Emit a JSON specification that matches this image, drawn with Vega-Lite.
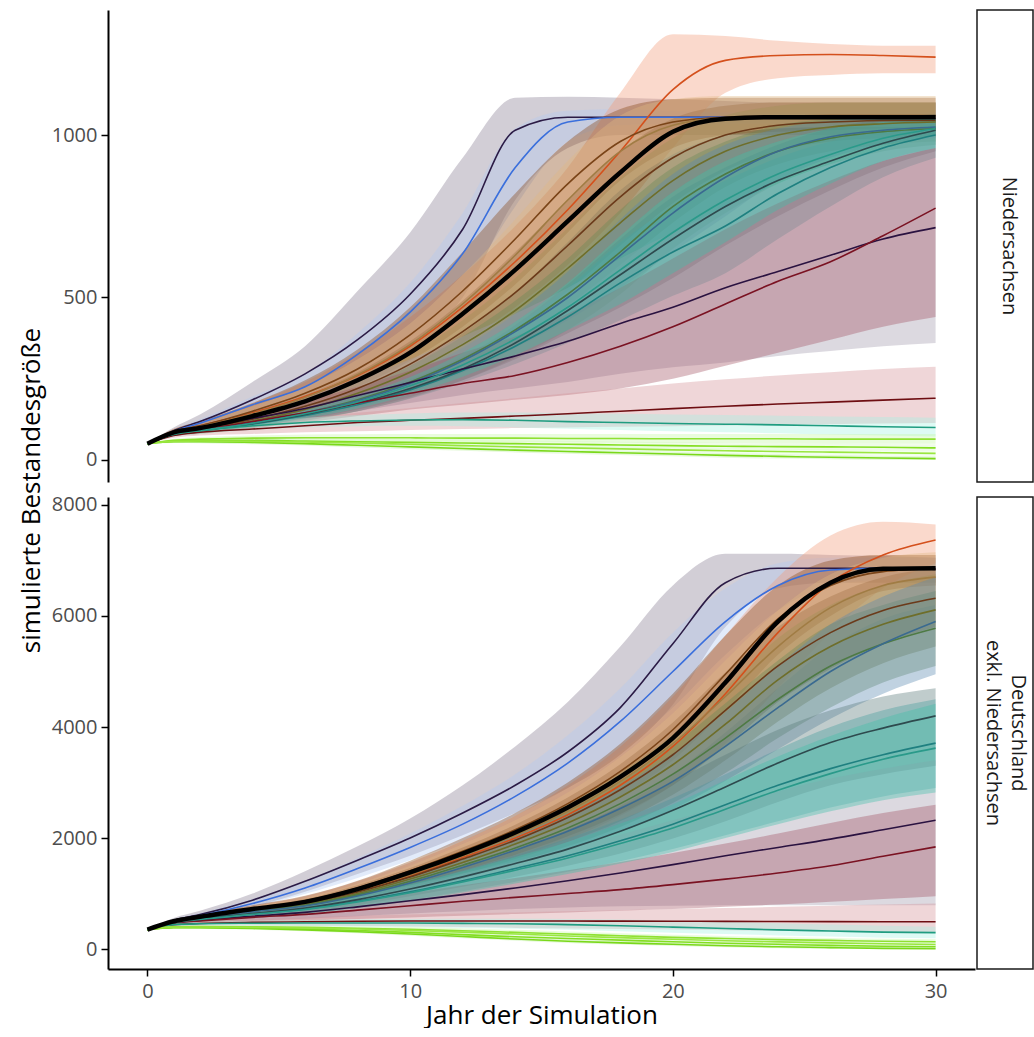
{
"$schema": "https://vega.github.io/schema/vega-lite/v6.json",
"background": "white",
"padding": {"left": 18, "top": 9, "right": 0, "bottom": 0},
"config": {"view": {"stroke": null}, "font": "Open Sans"},
"columns": 2,
"align": "each",
"bounds": "flush",
"spacing": {"row": 15, "column": 2},
"datasets": {
"main": [
{"f":"N","x":0,"y":50},{"f":"N","x":1,"y":85},{"f":"N","x":2,"y":98},{"f":"N","x":4,"y":135},{"f":"N","x":6,"y":180},{"f":"N","x":8,"y":245},{"f":"N","x":10,"y":330},{"f":"N","x":12,"y":450},{"f":"N","x":14,"y":585},{"f":"N","x":16,"y":735},{"f":"N","x":18,"y":885},{"f":"N","x":20,"y":1010},{"f":"N","x":22,"y":1050},{"f":"N","x":24,"y":1055},{"f":"N","x":26,"y":1055},{"f":"N","x":28,"y":1055},{"f":"N","x":30,"y":1055},
{"f":"D","x":0,"y":350},{"f":"D","x":1,"y":500},{"f":"D","x":2,"y":580},{"f":"D","x":4,"y":720},{"f":"D","x":6,"y":850},{"f":"D","x":8,"y":1080},{"f":"D","x":10,"y":1380},{"f":"D","x":12,"y":1720},{"f":"D","x":14,"y":2100},{"f":"D","x":16,"y":2550},{"f":"D","x":18,"y":3100},{"f":"D","x":20,"y":3800},{"f":"D","x":22,"y":4800},{"f":"D","x":24,"y":5900},{"f":"D","x":26,"y":6600},{"f":"D","x":28,"y":6850},{"f":"D","x":30,"y":6860}
],
"bandsN": [
{"s":"s01","x":0,"y":50,"lo":50,"hi":50},{"s":"s01","x":1,"y":90,"lo":80,"hi":100},{"s":"s01","x":2,"y":118,"lo":100,"hi":140},{"s":"s01","x":4,"y":185,"lo":140,"hi":240},{"s":"s01","x":6,"y":265,"lo":190,"hi":350},{"s":"s01","x":8,"y":370,"lo":250,"hi":520},{"s":"s01","x":10,"y":510,"lo":350,"hi":700},{"s":"s01","x":12,"y":710,"lo":500,"hi":930},{"s":"s01","x":14,"y":1015,"lo":800,"hi":1115},{"s":"s01","x":16,"y":1055,"lo":960,"hi":1118},{"s":"s01","x":18,"y":1055,"lo":1000,"hi":1115},{"s":"s01","x":20,"y":1055,"lo":1000,"hi":1110},{"s":"s01","x":22,"y":1055,"lo":1000,"hi":1105},{"s":"s01","x":24,"y":1054,"lo":1000,"hi":1100},{"s":"s01","x":26,"y":1053,"lo":1000,"hi":1100},{"s":"s01","x":28,"y":1053,"lo":1000,"hi":1100},{"s":"s01","x":30,"y":1052,"lo":1000,"hi":1100},
{"s":"s02","x":0,"y":50,"lo":50,"hi":50},{"s":"s02","x":1,"y":88,"lo":82,"hi":95},{"s":"s02","x":2,"y":113,"lo":102,"hi":125},{"s":"s02","x":4,"y":170,"lo":150,"hi":195},{"s":"s02","x":6,"y":225,"lo":195,"hi":265},{"s":"s02","x":8,"y":325,"lo":275,"hi":390},{"s":"s02","x":10,"y":455,"lo":385,"hi":545},{"s":"s02","x":12,"y":635,"lo":530,"hi":760},{"s":"s02","x":14,"y":900,"lo":780,"hi":1020},{"s":"s02","x":16,"y":1040,"lo":980,"hi":1075},{"s":"s02","x":18,"y":1055,"lo":1030,"hi":1080},{"s":"s02","x":20,"y":1055,"lo":1035,"hi":1075},{"s":"s02","x":22,"y":1055,"lo":1035,"hi":1070},{"s":"s02","x":24,"y":1055,"lo":1035,"hi":1070},{"s":"s02","x":26,"y":1055,"lo":1035,"hi":1070},{"s":"s02","x":28,"y":1055,"lo":1035,"hi":1070},{"s":"s02","x":30,"y":1055,"lo":1035,"hi":1070},
{"s":"s03","x":0,"y":50,"lo":50,"hi":50},{"s":"s03","x":1,"y":85,"lo":78,"hi":95},{"s":"s03","x":2,"y":105,"lo":92,"hi":120},{"s":"s03","x":4,"y":145,"lo":120,"hi":175},{"s":"s03","x":6,"y":195,"lo":155,"hi":240},{"s":"s03","x":8,"y":260,"lo":200,"hi":330},{"s":"s03","x":10,"y":350,"lo":270,"hi":440},{"s":"s03","x":12,"y":470,"lo":360,"hi":570},{"s":"s03","x":14,"y":610,"lo":470,"hi":720},{"s":"s03","x":16,"y":770,"lo":600,"hi":900},{"s":"s03","x":18,"y":950,"lo":760,"hi":1130},{"s":"s03","x":20,"y":1140,"lo":960,"hi":1310},{"s":"s03","x":22,"y":1230,"lo":1130,"hi":1305},{"s":"s03","x":24,"y":1245,"lo":1175,"hi":1290},{"s":"s03","x":26,"y":1248,"lo":1185,"hi":1280},{"s":"s03","x":28,"y":1245,"lo":1190,"hi":1275},{"s":"s03","x":30,"y":1240,"lo":1190,"hi":1275},
{"s":"s04","x":0,"y":50,"lo":50,"hi":50},{"s":"s04","x":1,"y":88,"lo":80,"hi":95},{"s":"s04","x":2,"y":105,"lo":95,"hi":118},{"s":"s04","x":4,"y":150,"lo":128,"hi":175},{"s":"s04","x":6,"y":205,"lo":170,"hi":245},{"s":"s04","x":8,"y":280,"lo":225,"hi":340},{"s":"s04","x":10,"y":385,"lo":305,"hi":470},{"s":"s04","x":12,"y":520,"lo":410,"hi":640},{"s":"s04","x":14,"y":680,"lo":540,"hi":820},{"s":"s04","x":16,"y":850,"lo":700,"hi":980},{"s":"s04","x":18,"y":980,"lo":860,"hi":1080},{"s":"s04","x":20,"y":1040,"lo":960,"hi":1110},{"s":"s04","x":22,"y":1055,"lo":1000,"hi":1115},{"s":"s04","x":24,"y":1058,"lo":1010,"hi":1115},{"s":"s04","x":26,"y":1060,"lo":1015,"hi":1115},{"s":"s04","x":28,"y":1060,"lo":1020,"hi":1115},{"s":"s04","x":30,"y":1060,"lo":1020,"hi":1115},
{"s":"s05","x":0,"y":50,"lo":50,"hi":50},{"s":"s05","x":1,"y":83,"lo":76,"hi":90},{"s":"s05","x":2,"y":95,"lo":84,"hi":108},{"s":"s05","x":4,"y":125,"lo":105,"hi":148},{"s":"s05","x":6,"y":165,"lo":135,"hi":200},{"s":"s05","x":8,"y":220,"lo":175,"hi":270},{"s":"s05","x":10,"y":295,"lo":230,"hi":365},{"s":"s05","x":12,"y":395,"lo":305,"hi":490},{"s":"s05","x":14,"y":515,"lo":400,"hi":640},{"s":"s05","x":16,"y":660,"lo":520,"hi":800},{"s":"s05","x":18,"y":810,"lo":660,"hi":950},{"s":"s05","x":20,"y":930,"lo":790,"hi":1050},{"s":"s05","x":22,"y":1000,"lo":890,"hi":1090},{"s":"s05","x":24,"y":1030,"lo":950,"hi":1100},{"s":"s05","x":26,"y":1040,"lo":980,"hi":1100},{"s":"s05","x":28,"y":1045,"lo":990,"hi":1100},{"s":"s05","x":30,"y":1045,"lo":995,"hi":1100},
{"s":"s06","x":0,"y":50,"lo":50,"hi":50},{"s":"s06","x":1,"y":82,"lo":76,"hi":88},{"s":"s06","x":2,"y":93,"lo":84,"hi":104},{"s":"s06","x":4,"y":120,"lo":102,"hi":140},{"s":"s06","x":6,"y":155,"lo":128,"hi":185},{"s":"s06","x":8,"y":205,"lo":165,"hi":245},{"s":"s06","x":10,"y":270,"lo":215,"hi":325},{"s":"s06","x":12,"y":355,"lo":285,"hi":430},{"s":"s06","x":14,"y":460,"lo":370,"hi":560},{"s":"s06","x":16,"y":590,"lo":475,"hi":715},{"s":"s06","x":18,"y":730,"lo":600,"hi":870},{"s":"s06","x":20,"y":860,"lo":730,"hi":990},{"s":"s06","x":22,"y":950,"lo":840,"hi":1060},{"s":"s06","x":24,"y":1000,"lo":910,"hi":1090},{"s":"s06","x":26,"y":1025,"lo":950,"hi":1100},{"s":"s06","x":28,"y":1035,"lo":970,"hi":1100},{"s":"s06","x":30,"y":1040,"lo":980,"hi":1100},
{"s":"s07","x":0,"y":50,"lo":50,"hi":50},{"s":"s07","x":1,"y":86,"lo":80,"hi":94},{"s":"s07","x":2,"y":102,"lo":92,"hi":115},{"s":"s07","x":4,"y":142,"lo":122,"hi":165},{"s":"s07","x":6,"y":192,"lo":160,"hi":225},{"s":"s07","x":8,"y":262,"lo":215,"hi":310},{"s":"s07","x":10,"y":355,"lo":290,"hi":420},{"s":"s07","x":12,"y":480,"lo":390,"hi":570},{"s":"s07","x":14,"y":630,"lo":515,"hi":740},{"s":"s07","x":16,"y":800,"lo":670,"hi":920},{"s":"s07","x":18,"y":950,"lo":830,"hi":1060},{"s":"s07","x":20,"y":1030,"lo":940,"hi":1110},{"s":"s07","x":22,"y":1052,"lo":1000,"hi":1120},{"s":"s07","x":24,"y":1055,"lo":1020,"hi":1120},{"s":"s07","x":26,"y":1055,"lo":1025,"hi":1120},{"s":"s07","x":28,"y":1055,"lo":1025,"hi":1120},{"s":"s07","x":30,"y":1055,"lo":1025,"hi":1120},
{"s":"s08","x":0,"y":50,"lo":50,"hi":50},{"s":"s08","x":1,"y":80,"lo":74,"hi":86},{"s":"s08","x":2,"y":90,"lo":80,"hi":100},{"s":"s08","x":4,"y":115,"lo":98,"hi":132},{"s":"s08","x":6,"y":145,"lo":120,"hi":170},{"s":"s08","x":8,"y":185,"lo":150,"hi":220},{"s":"s08","x":10,"y":240,"lo":190,"hi":290},{"s":"s08","x":12,"y":310,"lo":245,"hi":380},{"s":"s08","x":14,"y":400,"lo":315,"hi":490},{"s":"s08","x":16,"y":510,"lo":400,"hi":620},{"s":"s08","x":18,"y":640,"lo":510,"hi":770},{"s":"s08","x":20,"y":780,"lo":650,"hi":900},{"s":"s08","x":22,"y":880,"lo":760,"hi":980},{"s":"s08","x":24,"y":950,"lo":850,"hi":1030},{"s":"s08","x":26,"y":990,"lo":910,"hi":1050},{"s":"s08","x":28,"y":1010,"lo":950,"hi":1060},{"s":"s08","x":30,"y":1020,"lo":970,"hi":1060},
{"s":"s09","x":0,"y":50,"lo":50,"hi":50},{"s":"s09","x":1,"y":80,"lo":76,"hi":84},{"s":"s09","x":2,"y":90,"lo":84,"hi":96},{"s":"s09","x":4,"y":110,"lo":100,"hi":120},{"s":"s09","x":6,"y":137,"lo":122,"hi":152},{"s":"s09","x":8,"y":170,"lo":150,"hi":192},{"s":"s09","x":10,"y":215,"lo":188,"hi":245},{"s":"s09","x":12,"y":275,"lo":238,"hi":315},{"s":"s09","x":14,"y":350,"lo":295,"hi":410},{"s":"s09","x":16,"y":440,"lo":360,"hi":530},{"s":"s09","x":18,"y":545,"lo":430,"hi":670},{"s":"s09","x":20,"y":640,"lo":505,"hi":780},{"s":"s09","x":22,"y":720,"lo":575,"hi":860},{"s":"s09","x":24,"y":820,"lo":680,"hi":930},{"s":"s09","x":26,"y":900,"lo":780,"hi":980},{"s":"s09","x":28,"y":960,"lo":870,"hi":1010},{"s":"s09","x":30,"y":1000,"lo":930,"hi":1030},
{"s":"s10","x":0,"y":50,"lo":50,"hi":50},{"s":"s10","x":1,"y":81,"lo":77,"hi":85},{"s":"s10","x":2,"y":92,"lo":86,"hi":98},{"s":"s10","x":4,"y":115,"lo":104,"hi":126},{"s":"s10","x":6,"y":145,"lo":130,"hi":160},{"s":"s10","x":8,"y":182,"lo":162,"hi":204},{"s":"s10","x":10,"y":235,"lo":208,"hi":264},{"s":"s10","x":12,"y":305,"lo":268,"hi":345},{"s":"s10","x":14,"y":395,"lo":345,"hi":450},{"s":"s10","x":16,"y":500,"lo":430,"hi":580},{"s":"s10","x":18,"y":630,"lo":530,"hi":740},{"s":"s10","x":20,"y":760,"lo":640,"hi":880},{"s":"s10","x":22,"y":870,"lo":750,"hi":970},{"s":"s10","x":24,"y":950,"lo":860,"hi":1020},{"s":"s10","x":26,"y":995,"lo":930,"hi":1045},{"s":"s10","x":28,"y":1015,"lo":970,"hi":1055},{"s":"s10","x":30,"y":1025,"lo":990,"hi":1060},
{"s":"s11","x":0,"y":50,"lo":50,"hi":50},{"s":"s11","x":1,"y":80,"lo":76,"hi":84},{"s":"s11","x":2,"y":90,"lo":84,"hi":96},{"s":"s11","x":4,"y":112,"lo":102,"hi":122},{"s":"s11","x":6,"y":140,"lo":126,"hi":155},{"s":"s11","x":8,"y":175,"lo":155,"hi":196},{"s":"s11","x":10,"y":220,"lo":194,"hi":248},{"s":"s11","x":12,"y":280,"lo":245,"hi":318},{"s":"s11","x":14,"y":360,"lo":310,"hi":415},{"s":"s11","x":16,"y":460,"lo":390,"hi":540},{"s":"s11","x":18,"y":570,"lo":470,"hi":680},{"s":"s11","x":20,"y":680,"lo":560,"hi":810},{"s":"s11","x":22,"y":780,"lo":660,"hi":900},{"s":"s11","x":24,"y":860,"lo":750,"hi":970},{"s":"s11","x":26,"y":920,"lo":830,"hi":1020},{"s":"s11","x":28,"y":975,"lo":900,"hi":1050},{"s":"s11","x":30,"y":1015,"lo":950,"hi":1065},
{"s":"s12","x":0,"y":50,"lo":50,"hi":50},{"s":"s12","x":1,"y":82,"lo":76,"hi":88},{"s":"s12","x":2,"y":98,"lo":86,"hi":110},{"s":"s12","x":4,"y":128,"lo":108,"hi":150},{"s":"s12","x":6,"y":158,"lo":125,"hi":195},{"s":"s12","x":8,"y":198,"lo":150,"hi":250},{"s":"s12","x":10,"y":238,"lo":175,"hi":310},{"s":"s12","x":12,"y":280,"lo":200,"hi":380},{"s":"s12","x":14,"y":320,"lo":220,"hi":450},{"s":"s12","x":16,"y":365,"lo":240,"hi":530},{"s":"s12","x":18,"y":420,"lo":265,"hi":620},{"s":"s12","x":20,"y":470,"lo":285,"hi":700},{"s":"s12","x":22,"y":530,"lo":300,"hi":780},{"s":"s12","x":24,"y":580,"lo":320,"hi":850},{"s":"s12","x":26,"y":630,"lo":335,"hi":910},{"s":"s12","x":28,"y":680,"lo":350,"hi":960},{"s":"s12","x":30,"y":715,"lo":360,"hi":1000},
{"s":"s13","x":0,"y":50,"lo":50,"hi":50},{"s":"s13","x":1,"y":80,"lo":74,"hi":87},{"s":"s13","x":2,"y":93,"lo":82,"hi":105},{"s":"s13","x":4,"y":118,"lo":98,"hi":140},{"s":"s13","x":6,"y":145,"lo":115,"hi":180},{"s":"s13","x":8,"y":175,"lo":135,"hi":225},{"s":"s13","x":10,"y":205,"lo":155,"hi":275},{"s":"s13","x":12,"y":235,"lo":170,"hi":330},{"s":"s13","x":14,"y":260,"lo":185,"hi":380},{"s":"s13","x":16,"y":300,"lo":200,"hi":450},{"s":"s13","x":18,"y":350,"lo":220,"hi":530},{"s":"s13","x":20,"y":410,"lo":250,"hi":620},{"s":"s13","x":22,"y":480,"lo":290,"hi":710},{"s":"s13","x":24,"y":550,"lo":330,"hi":790},{"s":"s13","x":26,"y":610,"lo":370,"hi":860},{"s":"s13","x":28,"y":690,"lo":410,"hi":920},{"s":"s13","x":30,"y":775,"lo":440,"hi":960},
{"s":"s14","x":0,"y":50,"lo":50,"hi":50},{"s":"s14","x":1,"y":75,"lo":68,"hi":82},{"s":"s14","x":2,"y":85,"lo":75,"hi":95},{"s":"s14","x":4,"y":95,"lo":80,"hi":112},{"s":"s14","x":6,"y":105,"lo":85,"hi":128},{"s":"s14","x":8,"y":115,"lo":88,"hi":145},{"s":"s14","x":10,"y":122,"lo":92,"hi":160},{"s":"s14","x":12,"y":128,"lo":95,"hi":175},{"s":"s14","x":14,"y":135,"lo":98,"hi":190},{"s":"s14","x":16,"y":142,"lo":100,"hi":205},{"s":"s14","x":18,"y":150,"lo":102,"hi":220},{"s":"s14","x":20,"y":158,"lo":104,"hi":235},{"s":"s14","x":22,"y":165,"lo":106,"hi":248},{"s":"s14","x":24,"y":172,"lo":108,"hi":260},{"s":"s14","x":26,"y":178,"lo":110,"hi":270},{"s":"s14","x":28,"y":184,"lo":112,"hi":280},{"s":"s14","x":30,"y":190,"lo":114,"hi":287},
{"s":"s15","x":0,"y":50,"lo":50,"hi":50},{"s":"s15","x":1,"y":78,"lo":72,"hi":84},{"s":"s15","x":2,"y":90,"lo":80,"hi":98},{"s":"s15","x":4,"y":105,"lo":92,"hi":118},{"s":"s15","x":6,"y":115,"lo":100,"hi":130},{"s":"s15","x":8,"y":120,"lo":104,"hi":138},{"s":"s15","x":10,"y":123,"lo":105,"hi":143},{"s":"s15","x":12,"y":124,"lo":104,"hi":146},{"s":"s15","x":14,"y":122,"lo":100,"hi":146},{"s":"s15","x":16,"y":118,"lo":96,"hi":144},{"s":"s15","x":18,"y":115,"lo":92,"hi":142},{"s":"s15","x":20,"y":112,"lo":88,"hi":140},{"s":"s15","x":22,"y":110,"lo":85,"hi":138},{"s":"s15","x":24,"y":108,"lo":82,"hi":136},{"s":"s15","x":26,"y":105,"lo":78,"hi":134},{"s":"s15","x":28,"y":102,"lo":75,"hi":132},{"s":"s15","x":30,"y":100,"lo":72,"hi":130},
{"s":"s16","x":0,"y":50,"lo":50,"hi":50},{"s":"s16","x":1,"y":60,"lo":55,"hi":65},{"s":"s16","x":2,"y":64,"lo":58,"hi":70},{"s":"s16","x":4,"y":67,"lo":60,"hi":75},{"s":"s16","x":6,"y":68,"lo":60,"hi":78},{"s":"s16","x":8,"y":68,"lo":58,"hi":79},{"s":"s16","x":10,"y":68,"lo":57,"hi":80},{"s":"s16","x":12,"y":67,"lo":56,"hi":80},{"s":"s16","x":14,"y":67,"lo":55,"hi":80},{"s":"s16","x":16,"y":66,"lo":54,"hi":80},{"s":"s16","x":18,"y":66,"lo":53,"hi":80},{"s":"s16","x":20,"y":65,"lo":52,"hi":80},{"s":"s16","x":22,"y":65,"lo":52,"hi":80},{"s":"s16","x":24,"y":65,"lo":51,"hi":80},{"s":"s16","x":26,"y":64,"lo":50,"hi":80},{"s":"s16","x":28,"y":64,"lo":50,"hi":80},{"s":"s16","x":30,"y":64,"lo":50,"hi":80},
{"s":"s17","x":0,"y":50,"lo":50,"hi":50},{"s":"s17","x":1,"y":58,"lo":54,"hi":62},{"s":"s17","x":2,"y":60,"lo":55,"hi":66},{"s":"s17","x":4,"y":60,"lo":53,"hi":68},{"s":"s17","x":6,"y":58,"lo":50,"hi":67},{"s":"s17","x":8,"y":56,"lo":47,"hi":66},{"s":"s17","x":10,"y":54,"lo":44,"hi":64},{"s":"s17","x":12,"y":52,"lo":42,"hi":62},{"s":"s17","x":14,"y":50,"lo":40,"hi":60},{"s":"s17","x":16,"y":48,"lo":38,"hi":58},{"s":"s17","x":18,"y":46,"lo":36,"hi":56},{"s":"s17","x":20,"y":44,"lo":34,"hi":54},{"s":"s17","x":22,"y":42,"lo":32,"hi":52},{"s":"s17","x":24,"y":41,"lo":31,"hi":51},{"s":"s17","x":26,"y":40,"lo":30,"hi":50},{"s":"s17","x":28,"y":39,"lo":29,"hi":49},{"s":"s17","x":30,"y":37,"lo":28,"hi":48},
{"s":"s18","x":0,"y":50,"lo":50,"hi":50},{"s":"s18","x":1,"y":56,"lo":52,"hi":60},{"s":"s18","x":2,"y":56,"lo":51,"hi":61},{"s":"s18","x":4,"y":54,"lo":48,"hi":60},{"s":"s18","x":6,"y":50,"lo":44,"hi":56},{"s":"s18","x":8,"y":45,"lo":38,"hi":52},{"s":"s18","x":10,"y":40,"lo":33,"hi":47},{"s":"s18","x":12,"y":35,"lo":28,"hi":42},{"s":"s18","x":14,"y":30,"lo":23,"hi":37},{"s":"s18","x":16,"y":26,"lo":19,"hi":33},{"s":"s18","x":18,"y":22,"lo":15,"hi":29},{"s":"s18","x":20,"y":18,"lo":11,"hi":25},{"s":"s18","x":22,"y":14,"lo":7,"hi":21},{"s":"s18","x":24,"y":11,"lo":4,"hi":18},{"s":"s18","x":26,"y":8,"lo":2,"hi":15},{"s":"s18","x":28,"y":6,"lo":0,"hi":13},{"s":"s18","x":30,"y":4,"lo":0,"hi":11},
{"s":"s19","x":0,"y":50,"lo":50,"hi":50},{"s":"s19","x":1,"y":57,"lo":53,"hi":61},{"s":"s19","x":2,"y":58,"lo":52,"hi":64},{"s":"s19","x":4,"y":57,"lo":50,"hi":64},{"s":"s19","x":6,"y":55,"lo":47,"hi":63},{"s":"s19","x":8,"y":52,"lo":44,"hi":60},{"s":"s19","x":10,"y":48,"lo":40,"hi":56},{"s":"s19","x":12,"y":44,"lo":36,"hi":52},{"s":"s19","x":14,"y":40,"lo":32,"hi":48},{"s":"s19","x":16,"y":37,"lo":29,"hi":45},{"s":"s19","x":18,"y":34,"lo":26,"hi":42},{"s":"s19","x":20,"y":31,"lo":23,"hi":39},{"s":"s19","x":22,"y":28,"lo":20,"hi":36},{"s":"s19","x":24,"y":26,"lo":18,"hi":34},{"s":"s19","x":26,"y":24,"lo":16,"hi":32},{"s":"s19","x":28,"y":22,"lo":14,"hi":30},{"s":"s19","x":30,"y":20,"lo":12,"hi":28},
{"s":"s20","x":0,"y":50,"lo":50,"hi":50},{"s":"s20","x":1,"y":80,"lo":76,"hi":84},{"s":"s20","x":2,"y":91,"lo":85,"hi":97},{"s":"s20","x":4,"y":113,"lo":103,"hi":123},{"s":"s20","x":6,"y":142,"lo":128,"hi":156},{"s":"s20","x":8,"y":178,"lo":158,"hi":198},{"s":"s20","x":10,"y":228,"lo":202,"hi":255},{"s":"s20","x":12,"y":292,"lo":256,"hi":330},{"s":"s20","x":14,"y":372,"lo":322,"hi":425},{"s":"s20","x":16,"y":470,"lo":400,"hi":545},{"s":"s20","x":18,"y":585,"lo":480,"hi":690},{"s":"s20","x":20,"y":700,"lo":575,"hi":825},{"s":"s20","x":22,"y":800,"lo":670,"hi":920},{"s":"s20","x":24,"y":880,"lo":770,"hi":980},{"s":"s20","x":26,"y":940,"lo":850,"hi":1020},{"s":"s20","x":28,"y":990,"lo":920,"hi":1040},{"s":"s20","x":30,"y":1020,"lo":960,"hi":1050}
],
"bandsD": [
{"s":"s01","x":0,"y":350,"lo":350,"hi":350},{"s":"s01","x":1,"y":520,"lo":480,"hi":560},{"s":"s01","x":2,"y":620,"lo":560,"hi":690},{"s":"s01","x":4,"y":880,"lo":760,"hi":1000},{"s":"s01","x":6,"y":1220,"lo":1030,"hi":1400},{"s":"s01","x":8,"y":1600,"lo":1350,"hi":1850},{"s":"s01","x":10,"y":2000,"lo":1680,"hi":2350},{"s":"s01","x":12,"y":2450,"lo":2050,"hi":2950},{"s":"s01","x":14,"y":2950,"lo":2450,"hi":3650},{"s":"s01","x":16,"y":3550,"lo":2900,"hi":4450},{"s":"s01","x":18,"y":4350,"lo":3500,"hi":5450},{"s":"s01","x":20,"y":5500,"lo":4400,"hi":6550},{"s":"s01","x":22,"y":6600,"lo":5800,"hi":7120},{"s":"s01","x":24,"y":6860,"lo":6500,"hi":7120},{"s":"s01","x":26,"y":6860,"lo":6600,"hi":7100},{"s":"s01","x":28,"y":6860,"lo":6600,"hi":7080},{"s":"s01","x":30,"y":6840,"lo":6600,"hi":7050},
{"s":"s02","x":0,"y":350,"lo":350,"hi":350},{"s":"s02","x":1,"y":510,"lo":480,"hi":540},{"s":"s02","x":2,"y":600,"lo":560,"hi":650},{"s":"s02","x":4,"y":820,"lo":750,"hi":900},{"s":"s02","x":6,"y":1100,"lo":990,"hi":1230},{"s":"s02","x":8,"y":1450,"lo":1280,"hi":1640},{"s":"s02","x":10,"y":1830,"lo":1600,"hi":2080},{"s":"s02","x":12,"y":2250,"lo":1950,"hi":2580},{"s":"s02","x":14,"y":2750,"lo":2400,"hi":3150},{"s":"s02","x":16,"y":3350,"lo":2900,"hi":3850},{"s":"s02","x":18,"y":4100,"lo":3550,"hi":4700},{"s":"s02","x":20,"y":5000,"lo":4350,"hi":5700},{"s":"s02","x":22,"y":5900,"lo":5300,"hi":6500},{"s":"s02","x":24,"y":6550,"lo":6100,"hi":6950},{"s":"s02","x":26,"y":6830,"lo":6550,"hi":7050},{"s":"s02","x":28,"y":6860,"lo":6650,"hi":7050},{"s":"s02","x":30,"y":6860,"lo":6650,"hi":7050},
{"s":"s03","x":0,"y":350,"lo":350,"hi":350},{"s":"s03","x":1,"y":500,"lo":470,"hi":530},{"s":"s03","x":2,"y":575,"lo":535,"hi":620},{"s":"s03","x":4,"y":705,"lo":640,"hi":780},{"s":"s03","x":6,"y":830,"lo":730,"hi":950},{"s":"s03","x":8,"y":1040,"lo":880,"hi":1220},{"s":"s03","x":10,"y":1320,"lo":1100,"hi":1560},{"s":"s03","x":12,"y":1650,"lo":1370,"hi":1950},{"s":"s03","x":14,"y":2000,"lo":1650,"hi":2400},{"s":"s03","x":16,"y":2420,"lo":1980,"hi":2950},{"s":"s03","x":18,"y":2950,"lo":2400,"hi":3650},{"s":"s03","x":20,"y":3650,"lo":2950,"hi":4550},{"s":"s03","x":22,"y":4600,"lo":3700,"hi":5650},{"s":"s03","x":24,"y":5700,"lo":4700,"hi":6700},{"s":"s03","x":26,"y":6600,"lo":5700,"hi":7450},{"s":"s03","x":28,"y":7100,"lo":6500,"hi":7700},{"s":"s03","x":30,"y":7370,"lo":6950,"hi":7650},
{"s":"s04","x":0,"y":350,"lo":350,"hi":350},{"s":"s04","x":1,"y":505,"lo":480,"hi":530},{"s":"s04","x":2,"y":585,"lo":545,"hi":625},{"s":"s04","x":4,"y":730,"lo":670,"hi":790},{"s":"s04","x":6,"y":870,"lo":790,"hi":960},{"s":"s04","x":8,"y":1100,"lo":980,"hi":1230},{"s":"s04","x":10,"y":1410,"lo":1240,"hi":1590},{"s":"s04","x":12,"y":1760,"lo":1540,"hi":2000},{"s":"s04","x":14,"y":2150,"lo":1880,"hi":2450},{"s":"s04","x":16,"y":2620,"lo":2280,"hi":3000},{"s":"s04","x":18,"y":3200,"lo":2750,"hi":3700},{"s":"s04","x":20,"y":3950,"lo":3400,"hi":4600},{"s":"s04","x":22,"y":4950,"lo":4300,"hi":5650},{"s":"s04","x":24,"y":5950,"lo":5300,"hi":6550},{"s":"s04","x":26,"y":6550,"lo":6000,"hi":7000},{"s":"s04","x":28,"y":6800,"lo":6450,"hi":7100},{"s":"s04","x":30,"y":6850,"lo":6550,"hi":7100},
{"s":"s05","x":0,"y":350,"lo":350,"hi":350},{"s":"s05","x":1,"y":495,"lo":470,"hi":520},{"s":"s05","x":2,"y":570,"lo":530,"hi":610},{"s":"s05","x":4,"y":700,"lo":640,"hi":760},{"s":"s05","x":6,"y":820,"lo":740,"hi":900},{"s":"s05","x":8,"y":1030,"lo":910,"hi":1150},{"s":"s05","x":10,"y":1300,"lo":1140,"hi":1460},{"s":"s05","x":12,"y":1620,"lo":1410,"hi":1830},{"s":"s05","x":14,"y":1960,"lo":1700,"hi":2240},{"s":"s05","x":16,"y":2370,"lo":2030,"hi":2730},{"s":"s05","x":18,"y":2870,"lo":2430,"hi":3330},{"s":"s05","x":20,"y":3500,"lo":2950,"hi":4080},{"s":"s05","x":22,"y":4300,"lo":3650,"hi":4980},{"s":"s05","x":24,"y":5100,"lo":4450,"hi":5800},{"s":"s05","x":26,"y":5700,"lo":5050,"hi":6350},{"s":"s05","x":28,"y":6100,"lo":5500,"hi":6700},{"s":"s05","x":30,"y":6320,"lo":5800,"hi":6850},
{"s":"s06","x":0,"y":350,"lo":350,"hi":350},{"s":"s06","x":1,"y":492,"lo":468,"hi":516},{"s":"s06","x":2,"y":565,"lo":528,"hi":602},{"s":"s06","x":4,"y":690,"lo":632,"hi":748},{"s":"s06","x":6,"y":805,"lo":728,"hi":882},{"s":"s06","x":8,"y":1000,"lo":890,"hi":1110},{"s":"s06","x":10,"y":1260,"lo":1100,"hi":1420},{"s":"s06","x":12,"y":1560,"lo":1350,"hi":1770},{"s":"s06","x":14,"y":1890,"lo":1620,"hi":2160},{"s":"s06","x":16,"y":2270,"lo":1930,"hi":2610},{"s":"s06","x":18,"y":2740,"lo":2300,"hi":3180},{"s":"s06","x":20,"y":3320,"lo":2780,"hi":3860},{"s":"s06","x":22,"y":4050,"lo":3400,"hi":4700},{"s":"s06","x":24,"y":4850,"lo":4100,"hi":5600},{"s":"s06","x":26,"y":5450,"lo":4700,"hi":6200},{"s":"s06","x":28,"y":5850,"lo":5150,"hi":6550},{"s":"s06","x":30,"y":6110,"lo":5450,"hi":6750},
{"s":"s07","x":0,"y":350,"lo":350,"hi":350},{"s":"s07","x":1,"y":498,"lo":472,"hi":524},{"s":"s07","x":2,"y":575,"lo":538,"hi":612},{"s":"s07","x":4,"y":712,"lo":650,"hi":774},{"s":"s07","x":6,"y":840,"lo":760,"hi":920},{"s":"s07","x":8,"y":1060,"lo":940,"hi":1180},{"s":"s07","x":10,"y":1340,"lo":1180,"hi":1500},{"s":"s07","x":12,"y":1680,"lo":1470,"hi":1890},{"s":"s07","x":14,"y":2050,"lo":1780,"hi":2320},{"s":"s07","x":16,"y":2480,"lo":2140,"hi":2820},{"s":"s07","x":18,"y":3020,"lo":2580,"hi":3460},{"s":"s07","x":20,"y":3700,"lo":3150,"hi":4250},{"s":"s07","x":22,"y":4550,"lo":3900,"hi":5200},{"s":"s07","x":24,"y":5450,"lo":4700,"hi":6100},{"s":"s07","x":26,"y":6150,"lo":5450,"hi":6750},{"s":"s07","x":28,"y":6550,"lo":5950,"hi":7050},{"s":"s07","x":30,"y":6700,"lo":6200,"hi":7150},
{"s":"s08","x":0,"y":350,"lo":350,"hi":350},{"s":"s08","x":1,"y":490,"lo":466,"hi":514},{"s":"s08","x":2,"y":560,"lo":522,"hi":598},{"s":"s08","x":4,"y":680,"lo":622,"hi":738},{"s":"s08","x":6,"y":790,"lo":714,"hi":866},{"s":"s08","x":8,"y":975,"lo":870,"hi":1080},{"s":"s08","x":10,"y":1220,"lo":1070,"hi":1370},{"s":"s08","x":12,"y":1510,"lo":1310,"hi":1710},{"s":"s08","x":14,"y":1820,"lo":1560,"hi":2080},{"s":"s08","x":16,"y":2180,"lo":1850,"hi":2510},{"s":"s08","x":18,"y":2620,"lo":2200,"hi":3040},{"s":"s08","x":20,"y":3150,"lo":2630,"hi":3670},{"s":"s08","x":22,"y":3800,"lo":3170,"hi":4430},{"s":"s08","x":24,"y":4500,"lo":3800,"hi":5200},{"s":"s08","x":26,"y":5100,"lo":4350,"hi":5850},{"s":"s08","x":28,"y":5500,"lo":4800,"hi":6200},{"s":"s08","x":30,"y":5780,"lo":5100,"hi":6450},
{"s":"s09","x":0,"y":350,"lo":350,"hi":350},{"s":"s09","x":1,"y":478,"lo":455,"hi":500},{"s":"s09","x":2,"y":535,"lo":500,"hi":570},{"s":"s09","x":4,"y":630,"lo":570,"hi":690},{"s":"s09","x":6,"y":720,"lo":640,"hi":800},{"s":"s09","x":8,"y":860,"lo":750,"hi":970},{"s":"s09","x":10,"y":1030,"lo":880,"hi":1180},{"s":"s09","x":12,"y":1230,"lo":1040,"hi":1420},{"s":"s09","x":14,"y":1450,"lo":1210,"hi":1690},{"s":"s09","x":16,"y":1680,"lo":1390,"hi":1990},{"s":"s09","x":18,"y":1950,"lo":1580,"hi":2330},{"s":"s09","x":20,"y":2250,"lo":1800,"hi":2720},{"s":"s09","x":22,"y":2600,"lo":2050,"hi":3150},{"s":"s09","x":24,"y":2950,"lo":2300,"hi":3600},{"s":"s09","x":26,"y":3250,"lo":2550,"hi":4000},{"s":"s09","x":28,"y":3500,"lo":2750,"hi":4300},{"s":"s09","x":30,"y":3710,"lo":2900,"hi":4500},
{"s":"s10","x":0,"y":350,"lo":350,"hi":350},{"s":"s10","x":1,"y":488,"lo":464,"hi":512},{"s":"s10","x":2,"y":555,"lo":518,"hi":592},{"s":"s10","x":4,"y":670,"lo":612,"hi":728},{"s":"s10","x":6,"y":775,"lo":700,"hi":850},{"s":"s10","x":8,"y":955,"lo":850,"hi":1060},{"s":"s10","x":10,"y":1190,"lo":1040,"hi":1340},{"s":"s10","x":12,"y":1470,"lo":1270,"hi":1670},{"s":"s10","x":14,"y":1780,"lo":1520,"hi":2040},{"s":"s10","x":16,"y":2120,"lo":1800,"hi":2440},{"s":"s10","x":18,"y":2530,"lo":2130,"hi":2930},{"s":"s10","x":20,"y":3020,"lo":2520,"hi":3520},{"s":"s10","x":22,"y":3650,"lo":3030,"hi":4270},{"s":"s10","x":24,"y":4350,"lo":3600,"hi":5100},{"s":"s10","x":26,"y":5000,"lo":4150,"hi":5850},{"s":"s10","x":28,"y":5500,"lo":4600,"hi":6350},{"s":"s10","x":30,"y":5900,"lo":4950,"hi":6700},
{"s":"s11","x":0,"y":350,"lo":350,"hi":350},{"s":"s11","x":1,"y":480,"lo":460,"hi":500},{"s":"s11","x":2,"y":540,"lo":505,"hi":575},{"s":"s11","x":4,"y":640,"lo":585,"hi":700},{"s":"s11","x":6,"y":740,"lo":665,"hi":820},{"s":"s11","x":8,"y":890,"lo":790,"hi":1000},{"s":"s11","x":10,"y":1080,"lo":950,"hi":1230},{"s":"s11","x":12,"y":1300,"lo":1120,"hi":1500},{"s":"s11","x":14,"y":1540,"lo":1300,"hi":1800},{"s":"s11","x":16,"y":1800,"lo":1500,"hi":2150},{"s":"s11","x":18,"y":2120,"lo":1720,"hi":2560},{"s":"s11","x":20,"y":2500,"lo":1990,"hi":3020},{"s":"s11","x":22,"y":2920,"lo":2300,"hi":3500},{"s":"s11","x":24,"y":3350,"lo":2650,"hi":3950},{"s":"s11","x":26,"y":3720,"lo":2950,"hi":4300},{"s":"s11","x":28,"y":3980,"lo":3150,"hi":4550},{"s":"s11","x":30,"y":4200,"lo":3300,"hi":4700},
{"s":"s12","x":0,"y":350,"lo":350,"hi":350},{"s":"s12","x":1,"y":470,"lo":445,"hi":500},{"s":"s12","x":2,"y":515,"lo":470,"hi":570},{"s":"s12","x":4,"y":590,"lo":510,"hi":690},{"s":"s12","x":6,"y":660,"lo":545,"hi":800},{"s":"s12","x":8,"y":760,"lo":590,"hi":960},{"s":"s12","x":10,"y":870,"lo":640,"hi":1150},{"s":"s12","x":12,"y":980,"lo":680,"hi":1360},{"s":"s12","x":14,"y":1100,"lo":720,"hi":1580},{"s":"s12","x":16,"y":1230,"lo":750,"hi":1820},{"s":"s12","x":18,"y":1370,"lo":770,"hi":2060},{"s":"s12","x":20,"y":1520,"lo":780,"hi":2320},{"s":"s12","x":22,"y":1680,"lo":790,"hi":2580},{"s":"s12","x":24,"y":1830,"lo":790,"hi":2840},{"s":"s12","x":26,"y":1980,"lo":790,"hi":3070},{"s":"s12","x":28,"y":2150,"lo":790,"hi":3250},{"s":"s12","x":30,"y":2320,"lo":790,"hi":3400},
{"s":"s13","x":0,"y":350,"lo":350,"hi":350},{"s":"s13","x":1,"y":468,"lo":440,"hi":495},{"s":"s13","x":2,"y":505,"lo":455,"hi":560},{"s":"s13","x":4,"y":570,"lo":490,"hi":660},{"s":"s13","x":6,"y":625,"lo":510,"hi":760},{"s":"s13","x":8,"y":700,"lo":540,"hi":880},{"s":"s13","x":10,"y":780,"lo":570,"hi":1010},{"s":"s13","x":12,"y":860,"lo":600,"hi":1150},{"s":"s13","x":14,"y":930,"lo":630,"hi":1280},{"s":"s13","x":16,"y":1000,"lo":660,"hi":1420},{"s":"s13","x":18,"y":1070,"lo":690,"hi":1570},{"s":"s13","x":20,"y":1160,"lo":720,"hi":1730},{"s":"s13","x":22,"y":1260,"lo":760,"hi":1900},{"s":"s13","x":24,"y":1370,"lo":800,"hi":2080},{"s":"s13","x":26,"y":1500,"lo":850,"hi":2270},{"s":"s13","x":28,"y":1670,"lo":900,"hi":2450},{"s":"s13","x":30,"y":1840,"lo":950,"hi":2600},
{"s":"s14","x":0,"y":350,"lo":350,"hi":350},{"s":"s14","x":1,"y":440,"lo":410,"hi":470},{"s":"s14","x":2,"y":460,"lo":420,"hi":500},{"s":"s14","x":4,"y":480,"lo":425,"hi":540},{"s":"s14","x":6,"y":490,"lo":420,"hi":570},{"s":"s14","x":8,"y":500,"lo":415,"hi":600},{"s":"s14","x":10,"y":505,"lo":405,"hi":620},{"s":"s14","x":12,"y":505,"lo":395,"hi":640},{"s":"s14","x":14,"y":505,"lo":380,"hi":660},{"s":"s14","x":16,"y":505,"lo":370,"hi":680},{"s":"s14","x":18,"y":502,"lo":360,"hi":700},{"s":"s14","x":20,"y":500,"lo":350,"hi":720},{"s":"s14","x":22,"y":498,"lo":340,"hi":740},{"s":"s14","x":24,"y":496,"lo":330,"hi":760},{"s":"s14","x":26,"y":494,"lo":320,"hi":780},{"s":"s14","x":28,"y":492,"lo":310,"hi":800},{"s":"s14","x":30,"y":490,"lo":300,"hi":820},
{"s":"s15","x":0,"y":350,"lo":350,"hi":350},{"s":"s15","x":1,"y":440,"lo":415,"hi":465},{"s":"s15","x":2,"y":455,"lo":420,"hi":490},{"s":"s15","x":4,"y":465,"lo":420,"hi":510},{"s":"s15","x":6,"y":470,"lo":415,"hi":525},{"s":"s15","x":8,"y":470,"lo":405,"hi":535},{"s":"s15","x":10,"y":468,"lo":395,"hi":540},{"s":"s15","x":12,"y":462,"lo":380,"hi":545},{"s":"s15","x":14,"y":455,"lo":365,"hi":545},{"s":"s15","x":16,"y":440,"lo":345,"hi":540},{"s":"s15","x":18,"y":420,"lo":320,"hi":530},{"s":"s15","x":20,"y":395,"lo":295,"hi":510},{"s":"s15","x":22,"y":370,"lo":270,"hi":490},{"s":"s15","x":24,"y":345,"lo":245,"hi":465},{"s":"s15","x":26,"y":325,"lo":225,"hi":440},{"s":"s15","x":28,"y":305,"lo":205,"hi":420},{"s":"s15","x":30,"y":295,"lo":195,"hi":400},
{"s":"s16","x":0,"y":350,"lo":350,"hi":350},{"s":"s16","x":1,"y":400,"lo":385,"hi":415},{"s":"s16","x":2,"y":405,"lo":385,"hi":425},{"s":"s16","x":4,"y":400,"lo":375,"hi":425},{"s":"s16","x":6,"y":390,"lo":360,"hi":420},{"s":"s16","x":8,"y":375,"lo":340,"hi":410},{"s":"s16","x":10,"y":355,"lo":315,"hi":395},{"s":"s16","x":12,"y":330,"lo":285,"hi":375},{"s":"s16","x":14,"y":300,"lo":255,"hi":345},{"s":"s16","x":16,"y":270,"lo":225,"hi":315},{"s":"s16","x":18,"y":240,"lo":195,"hi":285},{"s":"s16","x":20,"y":210,"lo":165,"hi":255},{"s":"s16","x":22,"y":190,"lo":145,"hi":235},{"s":"s16","x":24,"y":170,"lo":125,"hi":215},{"s":"s16","x":26,"y":155,"lo":110,"hi":200},{"s":"s16","x":28,"y":140,"lo":95,"hi":185},{"s":"s16","x":30,"y":130,"lo":85,"hi":175},
{"s":"s17","x":0,"y":350,"lo":350,"hi":350},{"s":"s17","x":1,"y":390,"lo":378,"hi":402},{"s":"s17","x":2,"y":390,"lo":374,"hi":406},{"s":"s17","x":4,"y":380,"lo":360,"hi":400},{"s":"s17","x":6,"y":360,"lo":336,"hi":384},{"s":"s17","x":8,"y":335,"lo":308,"hi":362},{"s":"s17","x":10,"y":300,"lo":270,"hi":330},{"s":"s17","x":12,"y":260,"lo":228,"hi":292},{"s":"s17","x":14,"y":220,"lo":188,"hi":252},{"s":"s17","x":16,"y":190,"lo":158,"hi":222},{"s":"s17","x":18,"y":160,"lo":128,"hi":192},{"s":"s17","x":20,"y":130,"lo":98,"hi":162},{"s":"s17","x":22,"y":105,"lo":75,"hi":135},{"s":"s17","x":24,"y":85,"lo":55,"hi":115},{"s":"s17","x":26,"y":65,"lo":38,"hi":92},{"s":"s17","x":28,"y":50,"lo":24,"hi":76},{"s":"s17","x":30,"y":40,"lo":15,"hi":65},
{"s":"s18","x":0,"y":350,"lo":350,"hi":350},{"s":"s18","x":1,"y":385,"lo":373,"hi":397},{"s":"s18","x":2,"y":382,"lo":366,"hi":398},{"s":"s18","x":4,"y":370,"lo":350,"hi":390},{"s":"s18","x":6,"y":345,"lo":320,"hi":370},{"s":"s18","x":8,"y":310,"lo":282,"hi":338},{"s":"s18","x":10,"y":270,"lo":240,"hi":300},{"s":"s18","x":12,"y":225,"lo":194,"hi":256},{"s":"s18","x":14,"y":180,"lo":150,"hi":210},{"s":"s18","x":16,"y":140,"lo":110,"hi":170},{"s":"s18","x":18,"y":110,"lo":80,"hi":140},{"s":"s18","x":20,"y":85,"lo":55,"hi":115},{"s":"s18","x":22,"y":60,"lo":30,"hi":90},{"s":"s18","x":24,"y":40,"lo":12,"hi":70},{"s":"s18","x":26,"y":25,"lo":0,"hi":55},{"s":"s18","x":28,"y":12,"lo":0,"hi":40},{"s":"s18","x":30,"y":5,"lo":0,"hi":30},
{"s":"s19","x":0,"y":350,"lo":350,"hi":350},{"s":"s19","x":1,"y":395,"lo":382,"hi":408},{"s":"s19","x":2,"y":398,"lo":382,"hi":414},{"s":"s19","x":4,"y":390,"lo":372,"hi":408},{"s":"s19","x":6,"y":378,"lo":356,"hi":400},{"s":"s19","x":8,"y":360,"lo":336,"hi":384},{"s":"s19","x":10,"y":335,"lo":308,"hi":362},{"s":"s19","x":12,"y":305,"lo":276,"hi":334},{"s":"s19","x":14,"y":270,"lo":240,"hi":300},{"s":"s19","x":16,"y":235,"lo":204,"hi":266},{"s":"s19","x":18,"y":205,"lo":174,"hi":236},{"s":"s19","x":20,"y":175,"lo":144,"hi":206},{"s":"s19","x":22,"y":150,"lo":118,"hi":182},{"s":"s19","x":24,"y":128,"lo":96,"hi":160},{"s":"s19","x":26,"y":110,"lo":78,"hi":142},{"s":"s19","x":28,"y":95,"lo":62,"hi":128},{"s":"s19","x":30,"y":80,"lo":48,"hi":112},
{"s":"s20","x":0,"y":350,"lo":350,"hi":350},{"s":"s20","x":1,"y":477,"lo":454,"hi":500},{"s":"s20","x":2,"y":533,"lo":498,"hi":568},{"s":"s20","x":4,"y":625,"lo":565,"hi":685},{"s":"s20","x":6,"y":712,"lo":630,"hi":794},{"s":"s20","x":8,"y":850,"lo":738,"hi":962},{"s":"s20","x":10,"y":1015,"lo":865,"hi":1165},{"s":"s20","x":12,"y":1210,"lo":1020,"hi":1400},{"s":"s20","x":14,"y":1420,"lo":1180,"hi":1660},{"s":"s20","x":16,"y":1640,"lo":1350,"hi":1930},{"s":"s20","x":18,"y":1900,"lo":1540,"hi":2260},{"s":"s20","x":20,"y":2180,"lo":1750,"hi":2610},{"s":"s20","x":22,"y":2520,"lo":2000,"hi":3040},{"s":"s20","x":24,"y":2860,"lo":2250,"hi":3470},{"s":"s20","x":26,"y":3160,"lo":2480,"hi":3840},{"s":"s20","x":28,"y":3420,"lo":2680,"hi":4160},{"s":"s20","x":30,"y":3620,"lo":2820,"hi":4420}
]
},
"concat": [
{
"width": 867, "height": 472,
"encoding": {
"x": {"field": "x", "type": "quantitative", "scale": {"domain": [-1.5, 31.5], "nice": false, "zero": false}, "axis": null}
},
"layer": [
{"data": {"name": "bandsN"},
 "mark": {"type": "area", "interpolate": "monotone", "fillOpacity": 0.38},
 "encoding": {
  "y": {"field": "lo", "type": "quantitative", "scale": {"domain": [-68, 1385], "nice": false, "zero": false},
        "axis": {"values": [0, 500, 1000], "format": "d", "title": "simulierte Bestandesgröße", "titleX": -64, "titleY": 480, "titleFont": "Open Sans", "titleFontSize": 26, "titleFontWeight": "normal", "titleColor": "#000000", "labelFont": "Open Sans", "labelFontSize": 20, "labelColor": "#4d4d4d", "labelPadding": 4, "tickSize": 7, "tickColor": "#000000", "tickWidth": 1.5, "domainColor": "#000000", "domainWidth": 2, "grid": false}},
  "y2": {"field": "hi"},
  "fill": {"field": "s", "type": "nominal", "legend": null,
    "scale": {"domain": ["s01","s02","s03","s04","s05","s06","s07","s08","s09","s10","s11","s12","s13","s14","s15","s16","s17","s18","s19","s20"],
              "range": ["#8a7e92","#b4cbf2","#f29a78","#8a4816","#7a4420","#7a7a36","#e0b884","#6a8a56","#36b4b4","#5a8ab0","#5a7a7a","#a49cae","#a45464","#d69498","#a6f2e2","#c6f6a6","#d2f8be","#bef0a0","#daffd0","#40c0a8"]}}
 }},
{"data": {"name": "bandsN"},
 "mark": {"type": "line", "interpolate": "monotone", "strokeWidth": 1.6},
 "encoding": {
  "y": {"field": "y", "type": "quantitative"},
  "stroke": {"field": "s", "type": "nominal", "legend": null,
    "scale": {"domain": ["s01","s02","s03","s04","s05","s06","s07","s08","s09","s10","s11","s12","s13","s14","s15","s16","s17","s18","s19","s20"],
              "range": ["#2b1b45","#3a6fdc","#d4501c","#7a4418","#6b3a1a","#6e6e2a","#a07c44","#4e7a44","#1f8080","#3a6a90","#2e4a4e","#2a1240","#7a1222","#6e0e12","#1f9c80","#8fe032","#84de22","#7ad81a","#9ae640","#2a9a8a"]}}
 }},
{"data": {"name": "main"},
 "transform": [{"filter": "datum.f === 'N'"}],
 "mark": {"type": "line", "interpolate": "monotone", "strokeWidth": 4.5, "color": "#000000"},
 "encoding": {"y": {"field": "y", "type": "quantitative"}}}
]
},
{
"width": 56, "height": 472,
"view": {"stroke": "#1a1a1a", "strokeWidth": 1.5},
"data": {"values": [{"label": "Niedersachsen"}]},
"mark": {"type": "text", "angle": 90, "font": "Open Sans", "fontSize": 20, "color": "#1a1a1a", "dy": -4},
"encoding": {"text": {"field": "label", "type": "nominal"}}
},
{
"width": 867, "height": 472,
"encoding": {
"x": {"field": "x", "type": "quantitative", "scale": {"domain": [-1.5, 31.5], "nice": false, "zero": false},
      "axis": {"values": [0, 10, 20, 30], "title": "Jahr der Simulation", "titleFont": "Open Sans", "titleFontSize": 26, "titleFontWeight": "normal", "titleColor": "#000000", "titlePadding": 1, "labelFont": "Open Sans", "labelFontSize": 20, "labelColor": "#4d4d4d", "labelPadding": 5, "tickSize": 7, "tickColor": "#000000", "tickWidth": 1.5, "domainColor": "#000000", "domainWidth": 2, "grid": false}}
},
"layer": [
{"data": {"name": "bandsD"},
 "mark": {"type": "area", "interpolate": "monotone", "fillOpacity": 0.38},
 "encoding": {
  "y": {"field": "lo", "type": "quantitative", "scale": {"domain": [-360, 8144], "nice": false, "zero": false},
        "axis": {"values": [0, 2000, 4000, 6000, 8000], "format": "d", "title": null, "labelFont": "Open Sans", "labelFontSize": 20, "labelColor": "#4d4d4d", "labelPadding": 4, "tickSize": 7, "tickColor": "#000000", "tickWidth": 1.5, "domainColor": "#000000", "domainWidth": 2, "grid": false}},
  "y2": {"field": "hi"},
  "fill": {"field": "s", "type": "nominal", "legend": null,
    "scale": {"domain": ["s01","s02","s03","s04","s05","s06","s07","s08","s09","s10","s11","s12","s13","s14","s15","s16","s17","s18","s19","s20"],
              "range": ["#8a7e92","#b4cbf2","#f29a78","#8a4816","#7a4420","#7a7a36","#e0b884","#6a8a56","#36b4b4","#5a8ab0","#5a7a7a","#a49cae","#a45464","#d69498","#a6f2e2","#c6f6a6","#d2f8be","#bef0a0","#daffd0","#40c0a8"]}}
 }},
{"data": {"name": "bandsD"},
 "mark": {"type": "line", "interpolate": "monotone", "strokeWidth": 1.6},
 "encoding": {
  "y": {"field": "y", "type": "quantitative"},
  "stroke": {"field": "s", "type": "nominal", "legend": null,
    "scale": {"domain": ["s01","s02","s03","s04","s05","s06","s07","s08","s09","s10","s11","s12","s13","s14","s15","s16","s17","s18","s19","s20"],
              "range": ["#2b1b45","#3a6fdc","#d4501c","#7a4418","#6b3a1a","#6e6e2a","#a07c44","#4e7a44","#1f8080","#3a6a90","#2e4a4e","#2a1240","#7a1222","#6e0e12","#1f9c80","#8fe032","#84de22","#7ad81a","#9ae640","#2a9a8a"]}}
 }},
{"data": {"name": "main"},
 "transform": [{"filter": "datum.f === 'D'"}],
 "mark": {"type": "line", "interpolate": "monotone", "strokeWidth": 4.5, "color": "#000000"},
 "encoding": {"y": {"field": "y", "type": "quantitative"}}}
]
},
{
"width": 56, "height": 472,
"view": {"stroke": "#1a1a1a", "strokeWidth": 1.5},
"data": {"values": [{"label": "Deutschland\nexkl. Niedersachsen"}]},
"mark": {"type": "text", "angle": 90, "font": "Open Sans", "fontSize": 20, "color": "#1a1a1a", "lineBreak": "\n", "lineHeight": 25, "dy": -13},
"encoding": {"text": {"field": "label", "type": "nominal"}}
}
]
}
